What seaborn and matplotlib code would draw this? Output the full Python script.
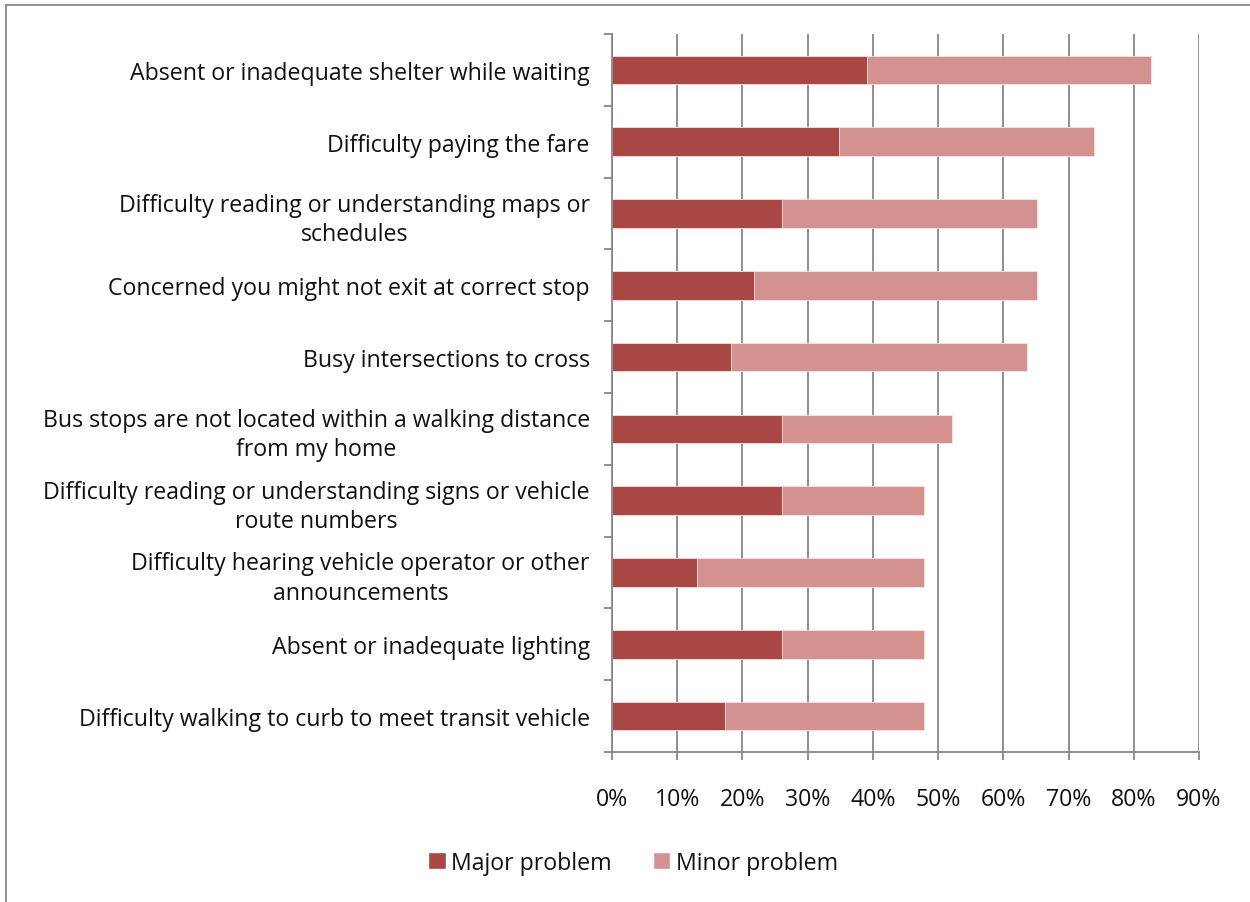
import matplotlib
matplotlib.use("Agg")
import matplotlib.pyplot as plt
import seaborn as sns
import pandas as pd
import numpy as np
from matplotlib.lines import Line2D
from matplotlib.patches import Patch
from matplotlib.ticker import FuncFormatter

categories = [
    "Absent or inadequate shelter while waiting",
    "Difficulty paying the fare",
    "Difficulty reading or understanding maps or\nschedules",
    "Concerned you might not exit at correct stop",
    "Busy intersections to cross",
    "Bus stops are not located within a walking distance\nfrom my home",
    "Difficulty reading or understanding signs or vehicle\nroute numbers",
    "Difficulty hearing vehicle operator or other\nannouncements",
    "Absent or inadequate lighting",
    "Difficulty walking to curb to meet transit vehicle",
]
major = [39.1, 34.8, 26.1, 21.7, 18.2, 26.1, 26.1, 13.0, 26.1, 17.4]
minor = [43.5, 39.1, 39.1, 43.5, 45.5, 26.1, 21.7, 34.8, 21.7, 30.4]
x_ticks = [0, 10, 20, 30, 40, 50, 60, 70, 80, 90]

MAJOR_C = "#A94744"
MINOR_C = "#D39190"
GRID_C = "#878787"
TEXT_C = "#111111"
FS = 16.7

sns.set_theme(style="white")
plt.rcParams["font.family"] = ["Open Sans", "DejaVu Sans"]

df = pd.DataFrame({"category": categories, "major": major, "minor": minor})
df["total"] = df["major"] + df["minor"]

fig = plt.figure(figsize=(12.5, 9.03), dpi=100)
ax = fig.add_axes([612 / 1250, 1 - 753 / 903, (1199 - 612) / 1250, (753 - 35) / 903])

# stacked bars: full length in the lighter colour, major share drawn on top
sns.barplot(data=df, y="category", x="total", color=MINOR_C, width=0.4,
            orient="h", saturation=1, edgecolor="#f6e2e2", linewidth=0.6, ax=ax)
sns.barplot(data=df, y="category", x="major", color=MAJOR_C, width=0.4,
            orient="h", saturation=1, edgecolor="#f6e2e2", linewidth=0.6, ax=ax)

ax.set_xlim(0, 90)
ax.set_ylim(len(categories) - 0.5, -0.5)
ax.set_xticks(x_ticks)
ax.xaxis.set_major_formatter(FuncFormatter(lambda v, p: f"{v:.0f}%"))
ax.set_xlabel("")
ax.set_ylabel("")

ax.grid(axis="x", color=GRID_C, linewidth=1.3)
ax.set_axisbelow(True)
for side in ["top", "right"]:
    ax.spines[side].set_visible(False)
for side in ["left", "bottom"]:
    ax.spines[side].set_color(GRID_C)
    ax.spines[side].set_linewidth(1.3)

ax.set_yticks(np.arange(len(categories) + 1) - 0.5, minor=True)
ax.tick_params(axis="y", which="major", length=0, pad=16, labelsize=FS,
               labelcolor=TEXT_C)
ax.tick_params(axis="y", which="minor", length=6, width=1.3, color=GRID_C,
               direction="out", left=True)
ax.tick_params(axis="x", which="major", length=6, width=1.3, color=GRID_C,
               direction="out", bottom=True, pad=19, labelsize=FS,
               labelcolor=TEXT_C)
for lbl in ax.get_yticklabels():
    lbl.set_multialignment("center")
    lbl.set_linespacing(1.3)

handles = [Patch(facecolor=MAJOR_C, label="Major problem"),
           Patch(facecolor=MINOR_C, label="Minor problem")]
leg = fig.legend(handles=handles, loc="center", bbox_to_anchor=(633 / 1250, 1 - 864 / 903),
                 ncol=2, frameon=False, fontsize=FS, handlelength=0.75, handleheight=0.75,
                 handletextpad=0.25, columnspacing=1.75)
for t in leg.get_texts():
    t.set_color(TEXT_C)

# outer chart border (top and left edges)
fig.add_artist(Line2D([5.5 / 1250, 1.0], [1 - 5.5 / 903, 1 - 5.5 / 903],
                      transform=fig.transFigure, color=GRID_C, linewidth=1.3))
fig.add_artist(Line2D([5.5 / 1250, 5.5 / 1250], [0.0, 1 - 5.5 / 903],
                      transform=fig.transFigure, color=GRID_C, linewidth=1.3))

fig.savefig("out.png", dpi=100, facecolor="white")
